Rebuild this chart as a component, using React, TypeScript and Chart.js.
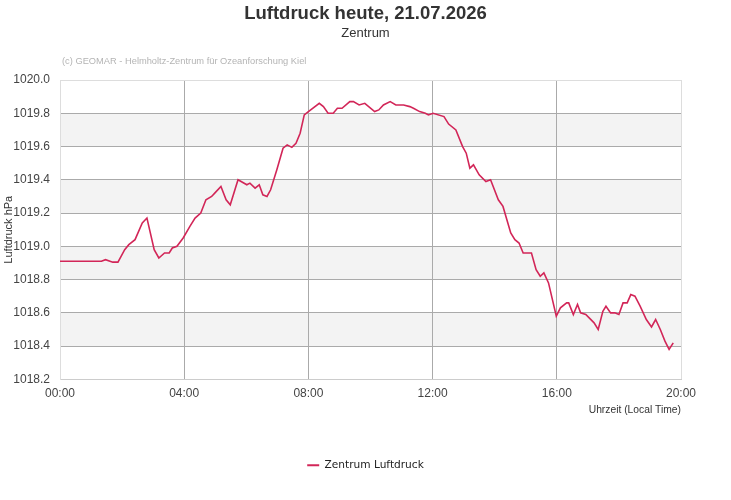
import React, { useEffect, useRef } from "react";
import { Chart, registerables } from "chart.js";

Chart.register(...registerables);

const titleText = "Luftdruck heute, 21.07.2026";
const subtitleText = "Zentrum";
const watermarkText = "(c) GEOMAR - Helmholtz-Zentrum für Ozeanforschung Kiel";
const seriesLabel = "Zentrum Luftdruck";
const yAxisTitle = "Luftdruck hPa";
const xAxisTitle = "Uhrzeit (Local Time)";

// time of day in minutes
const times = [
  0, 30, 60, 80, 88, 102, 112, 125, 133, 145, 159, 168, 182, 191, 202, 211, 217, 226, 238, 251,
  261, 272, 282, 293, 299, 311, 321, 329, 344, 361, 367, 377, 385, 392, 400, 407, 419, 431, 439, 448,
  456, 464, 472, 480, 501, 509, 518, 528, 536, 545, 560, 567, 578, 589, 608, 616, 625, 638, 649, 664,
  676, 683, 695, 706, 712, 721, 742, 751, 765, 778, 785, 792, 799, 810, 823, 832, 847, 856, 871, 879,
  887, 895, 911, 920, 928, 935, 944, 959, 967, 979, 983, 992, 1000, 1006, 1016, 1024, 1032, 1040, 1049, 1055,
  1064, 1072, 1080, 1088, 1096, 1103, 1111, 1121, 1133, 1143, 1151, 1160, 1169, 1177, 1185,
];

// pressure in hPa
const pressure = [
  1018.91, 1018.91, 1018.91, 1018.91, 1018.92, 1018.905, 1018.905, 1018.98, 1019.01, 1019.04, 1019.14, 1019.17, 1018.98, 1018.93, 1018.96, 1018.96, 1018.99, 1019.0, 1019.05, 1019.12,
  1019.17, 1019.2, 1019.28, 1019.3, 1019.32, 1019.36, 1019.28, 1019.25, 1019.4, 1019.37, 1019.38, 1019.35, 1019.37, 1019.31, 1019.3, 1019.34, 1019.46, 1019.59, 1019.61, 1019.595,
  1019.62, 1019.68, 1019.79, 1019.81, 1019.86, 1019.84, 1019.8, 1019.8, 1019.83, 1019.83, 1019.87, 1019.87, 1019.85, 1019.86, 1019.81, 1019.82, 1019.85, 1019.87, 1019.85, 1019.85,
  1019.84, 1019.83, 1019.81, 1019.8, 1019.79, 1019.8, 1019.78, 1019.735, 1019.7, 1019.6, 1019.56, 1019.47, 1019.49, 1019.43, 1019.39, 1019.4, 1019.28, 1019.24, 1019.08, 1019.04,
  1019.02, 1018.96, 1018.96, 1018.86, 1018.82, 1018.84, 1018.78, 1018.58, 1018.63, 1018.66, 1018.66, 1018.59, 1018.65, 1018.6, 1018.59, 1018.565, 1018.54, 1018.5, 1018.61, 1018.64,
  1018.6, 1018.6, 1018.59, 1018.66, 1018.66, 1018.71, 1018.7, 1018.64, 1018.56, 1018.515, 1018.56, 1018.5, 1018.43, 1018.38, 1018.42,
];

const xMin = 0;
const xMax = 1200;
const xStep = 240;
const yMin = 1018.2;
const yMax = 1020.0;
const yStep = 0.2;

const LINE_COLOR = "rgb(210, 38, 88)";
const BAND_COLOR = "#f3f3f3";
const FONT = "'Liberation Sans', Arial, sans-serif";

const fmtTime = (v: number) => {
  const h = Math.floor(v / 60);
  const m = Math.round(v % 60);
  return String(h).padStart(2, "0") + ":" + String(m).padStart(2, "0");
};

const bandPlugin = {
  id: "bands",
  beforeDraw(chart: any) {
    const { ctx, chartArea } = chart;
    const y = chart.scales.y;
    const ticks = y.ticks.map((t: any) => t.value).sort((a: number, b: number) => b - a);
    ctx.save();
    ctx.fillStyle = BAND_COLOR;
    for (let i = 1; i < ticks.length - 1; i += 2) {
      const top = y.getPixelForValue(ticks[i]);
      const bottom = y.getPixelForValue(ticks[i + 1]);
      ctx.fillRect(chartArea.left, top, chartArea.right - chartArea.left, bottom - top);
    }
    ctx.restore();
  },
};

const watermarkPlugin = {
  id: "watermark",
  afterDraw(chart: any) {
    const { ctx, chartArea } = chart;
    ctx.save();
    ctx.font = "9.3px " + FONT;
    ctx.fillStyle = "#b4b4b4";
    ctx.textAlign = "left";
    ctx.textBaseline = "middle";
    ctx.fillText(watermarkText, chartArea.left + 2, chartArea.top - 18.5);
    ctx.restore();
  },
};

export default function App() {
  const canvasRef = useRef<HTMLCanvasElement | null>(null);

  useEffect(() => {
    if (!canvasRef.current) return;
    const chart = new Chart(canvasRef.current, {
      type: "line",
      data: {
        datasets: [
          {
            label: seriesLabel,
            data: times.map((t, i) => ({ x: t, y: pressure[i] })),
            borderColor: LINE_COLOR,
            backgroundColor: LINE_COLOR,
            borderWidth: 1.6,
            pointRadius: 0,
            tension: 0,
            fill: false,
          },
        ],
      },
      options: {
        responsive: false,
        animation: false,
        layout: { padding: { left: 0, right: 0, top: 0, bottom: 19.5 } },
        plugins: {
          title: {
            display: true,
            text: titleText,
            color: "#333",
            font: { family: FONT, size: 18.5, weight: "bold" },
            padding: { top: 2.5, bottom: 0 },
          },
          subtitle: {
            display: true,
            text: subtitleText,
            color: "#333",
            font: { family: FONT, size: 13 },
            padding: { top: 1, bottom: 38.7 },
          },
          legend: {
            display: true,
            position: "bottom",
            labels: {
              color: "#222",
              font: { family: "'DejaVu Sans', sans-serif", size: 10.6 },
              boxWidth: 12,
              boxHeight: 2,
              padding: 10,
              generateLabels: (chart: any) =>
                Chart.defaults.plugins.legend.labels
                  .generateLabels(chart)
                  .filter((l: any) => l.datasetIndex === 0)
                  .map((l: any) => ({ ...l, lineWidth: 0, fillStyle: LINE_COLOR })),
            },
          },
          tooltip: { enabled: false },
        },
        scales: {
          x: {
            type: "linear",
            min: xMin,
            max: xMax,
            afterFit: (s: any) => {
              s.height = 70.5;
            },
            ticks: {
              stepSize: xStep,
              autoSkip: false,
              maxRotation: 0,
              padding: 7.5,
              color: "#444",
              font: { family: FONT, size: 12 },
              callback: (v: any) => fmtTime(Number(v)),
            },
            grid: {
              drawTicks: false,
              lineWidth: 1,
              color: (c: any) =>
                c.tick && (c.tick.value === xMin || c.tick.value === xMax) ? "#dddddd" : "#aaaaaa",
            },
            border: { display: true, color: "#cccccc" },
            title: {
              display: true,
              text: xAxisTitle,
              align: "end",
              color: "#333",
              font: { family: FONT, size: 10.3 },
              padding: { top: 0, bottom: 34 },
            },
          },
          y: {
            min: yMin,
            max: yMax,
            afterFit: (s: any) => {
              s.width = 60;
            },
            ticks: {
              stepSize: yStep,
              padding: 10,
              color: "#444",
              font: { family: FONT, size: 12 },
              callback: (v: any) => Number(v).toFixed(1),
            },
            grid: {
              drawTicks: false,
              lineWidth: 1,
              color: (c: any) =>
                c.tick && Math.abs(c.tick.value - yMax) < 1e-6 ? "#dddddd" : "#aaaaaa",
            },
            border: { display: true, color: "#dddddd" },
            title: {
              display: true,
              text: yAxisTitle,
              color: "#333",
              font: { family: FONT, size: 11 },
              padding: { top: 2, bottom: 0 },
            },
          },
          yRight: {
            position: "right",
            min: yMin,
            max: yMax,
            afterFit: (s: any) => {
              s.width = 50;
            },
            ticks: { display: false },
            grid: { display: false, drawOnChartArea: false },
            border: { display: false },
          },
        },
      } as any,
      plugins: [bandPlugin, watermarkPlugin],
    });
    return () => chart.destroy();
  }, []);

  return (
    <div style={{ position: "absolute", left: 0, top: 0, width: 731, height: 500, background: "#fff" }}>
      <canvas ref={canvasRef} width={731} height={500} />
    </div>
  );
}
